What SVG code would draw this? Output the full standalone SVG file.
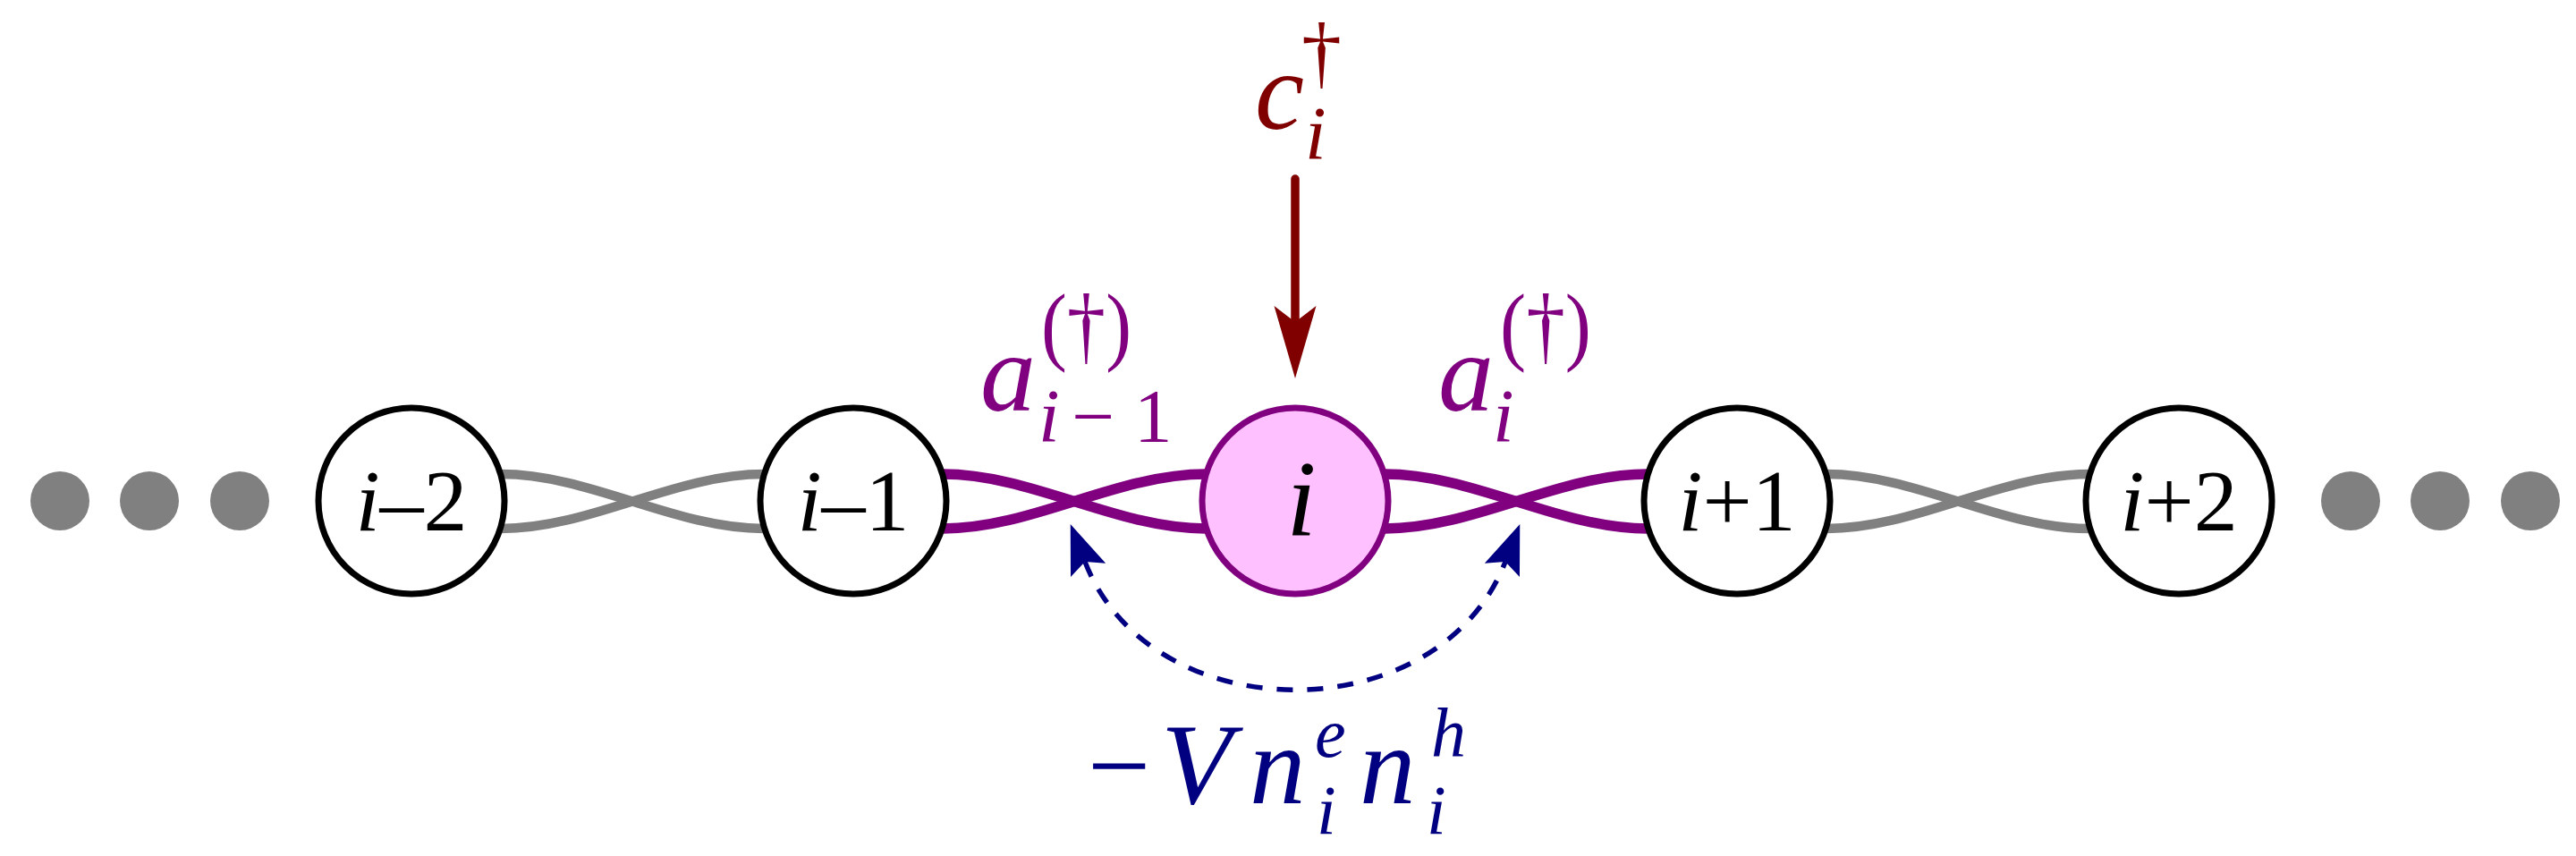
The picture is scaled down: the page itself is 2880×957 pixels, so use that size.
<svg xmlns="http://www.w3.org/2000/svg" width="2880" height="957" viewBox="0 0 2880 957">
<style>
.node{fill:#ffffff;stroke:#000000;stroke-width:7}
.center{fill:#ffc0ff;stroke:#800080;stroke-width:7}
.dot{fill:#808080}
.gray{fill:none;stroke:#808080;stroke-width:10.5}
.purp{fill:none;stroke:#800080;stroke-width:11.5}
.lab{font-family:"Liberation Serif",serif;font-size:98px;fill:#000000}
.it{font-style:italic}
.math{font-family:"Liberation Serif",serif;font-style:italic}
.up{font-style:normal}
</style>
<defs>
<marker id="redhead" markerUnits="userSpaceOnUse" orient="auto" markerWidth="120" markerHeight="60" viewBox="-40 -30 120 60" refX="0" refY="0" overflow="visible">
<path d="M53,0 L-28,-23.5 L-10,0 L-28,23.5 Z" fill="#800000"/>
</marker>
<marker id="bluehead" markerUnits="userSpaceOnUse" orient="auto-start-reverse" markerWidth="80" markerHeight="60" viewBox="-20 -30 80 60" refX="0" refY="0" overflow="visible">
<path d="M45,0 L-10,-21 L0,0 L-10,21 Z" fill="#000080"/>
</marker>
</defs>
<rect width="2880" height="957" fill="#ffffff"/>
<g id="connectors">
<path class="gray" d="M560,530 C660,530 754,591 854,591"/>
<path class="gray" d="M560,591 C660,591 754,530 854,530"/>
<path class="purp" d="M1054,530 C1154,530 1248,591 1348,591"/>
<path class="purp" d="M1054,591 C1154,591 1248,530 1348,530"/>
<path class="purp" d="M1548,530 C1648,530 1742,591 1842,591"/>
<path class="purp" d="M1548,591 C1648,591 1742,530 1842,530"/>
<path class="gray" d="M2042,530 C2142,530 2236,591 2336,591"/>
<path class="gray" d="M2042,591 C2142,591 2236,530 2336,530"/>
<path d="M1448,200 L1448,370" fill="none" stroke="#800000" stroke-width="9.5" stroke-linecap="round" marker-end="url(#redhead)"/>
<path d="M1213,628 C1287,819 1609,819 1683,628" fill="none" stroke="#000080" stroke-width="5.5" stroke-dasharray="18 16" marker-start="url(#bluehead)" marker-end="url(#bluehead)"/>
</g>
<g id="dots-left">
<circle class="dot" cx="67" cy="560" r="33"/>
<circle class="dot" cx="167" cy="560" r="33"/>
<circle class="dot" cx="268" cy="560" r="33"/>
</g>
<g id="dots-right">
<circle class="dot" cx="2628" cy="560" r="33"/>
<circle class="dot" cx="2728" cy="560" r="33"/>
<circle class="dot" cx="2829" cy="560" r="33"/>
</g>
<g id="node-im2">
<circle class="node" cx="460" cy="560" r="104"/>
<text class="lab" x="460" y="593" text-anchor="middle"><tspan class="it">i</tspan>–2</text>
</g>
<g id="node-im1">
<circle class="node" cx="954" cy="560" r="104"/>
<text class="lab" x="954" y="593" text-anchor="middle"><tspan class="it">i</tspan>–1</text>
</g>
<g id="node-i">
<circle class="center" cx="1448" cy="560" r="104"/>
<text class="math" x="1455" y="598" font-size="120" text-anchor="middle" fill="#000000">i</text>
</g>
<g id="node-ip1">
<circle class="node" cx="1942" cy="560" r="104"/>
<text class="lab" x="1942" y="593" text-anchor="middle"><tspan class="it">i</tspan>+1</text>
</g>
<g id="node-ip2">
<circle class="node" cx="2436" cy="560" r="104"/>
<text class="lab" x="2436" y="593" text-anchor="middle"><tspan class="it">i</tspan>+2</text>
</g>
<g id="label-c">
<text class="math" fill="#800000" font-size="124"><tspan x="1403" y="144">c</tspan><tspan class="up" x="1455" y="88" font-size="90">†</tspan><tspan x="1459" y="178" font-size="85">i</tspan></text>
</g>
<g id="label-a-left">
<text class="math" fill="#800080" font-size="124"><tspan x="1096" y="459">a</tspan><tspan class="up" x="1164" y="396" font-size="97" textLength="101" lengthAdjust="spacingAndGlyphs">(†)</tspan><tspan x="1161" y="494" font-size="85">i</tspan><tspan class="up" x="1198" y="494" font-size="85">−</tspan><tspan class="up" x="1268" y="494" font-size="85">1</tspan></text>
</g>
<g id="label-a-right">
<text class="math" fill="#800080" font-size="124"><tspan x="1608" y="459">a</tspan><tspan class="up" x="1677" y="396" font-size="97" textLength="102" lengthAdjust="spacingAndGlyphs">(†)</tspan><tspan x="1669" y="494" font-size="85">i</tspan></text>
</g>
<g id="label-V">
<text class="math" fill="#000080" font-size="125"><tspan class="up" x="1216" y="898">−</tspan><tspan x="1298" y="898" font-size="130">V</tspan><tspan x="1397" y="898">n</tspan><tspan x="1470" y="846" font-size="78">e</tspan><tspan x="1472" y="932" font-size="78">i</tspan><tspan x="1520" y="898">n</tspan><tspan x="1600" y="846" font-size="78">h</tspan><tspan x="1595" y="932" font-size="78">i</tspan></text>
</g>
</svg>
